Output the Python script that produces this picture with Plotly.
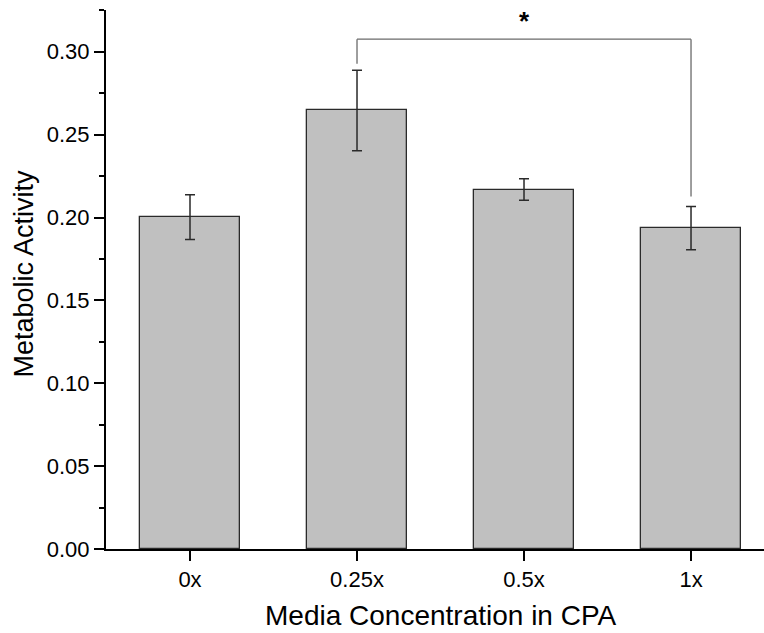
import plotly.graph_objects as go

categories = ["0x", "0.25x", "0.5x", "1x"]
values = [0.2002, 0.2646, 0.2169, 0.1936]
errors = [0.0135, 0.0243, 0.0065, 0.0130]
y_ticks = [0.00, 0.05, 0.10, 0.15, 0.20, 0.25, 0.30]
y_tick_labels = ["0.00", "0.05", "0.10", "0.15", "0.20", "0.25", "0.30"]

# significance bracket between 0.25x and 1x
sig_pair = (1, 3)
sig_top = 0.3076
sig_left_bottom = 0.2928
sig_right_bottom = 0.2127
sig_label = "*"
sig_label_y = 0.3185

x_pos = list(range(len(categories)))
FONT = "Liberation Sans, Arial, sans-serif"

fig = go.Figure()
fig.add_trace(go.Bar(
    x=x_pos, y=values, width=0.6,
    marker=dict(color="#c0c0c0", line=dict(color="#2a2a2a", width=1.3)),
    error_y=dict(type="data", array=errors, visible=True,
                 color="#2a2a2a", thickness=1.5, width=5),
    showlegend=False,
))

a, b = sig_pair
fig.add_shape(type="line", xref="x", yref="y", x0=x_pos[a], x1=x_pos[a],
              y0=sig_left_bottom, y1=sig_top, line=dict(color="#6a6a6a", width=1.3))
fig.add_shape(type="line", xref="x", yref="y", x0=x_pos[a], x1=x_pos[b],
              y0=sig_top, y1=sig_top, line=dict(color="#6a6a6a", width=1.3))
fig.add_shape(type="line", xref="x", yref="y", x0=x_pos[b], x1=x_pos[b],
              y0=sig_right_bottom, y1=sig_top, line=dict(color="#6a6a6a", width=1.3))
fig.add_annotation(x=(x_pos[a] + x_pos[b]) / 2, y=sig_label_y, xref="x", yref="y",
                   text="<b>" + sig_label + "</b>", showarrow=False,
                   font=dict(family=FONT, size=26, color="black"))

fig.add_annotation(text="Metabolic Activity", xref="paper", yref="paper",
                   x=-0.1246, y=0.511, textangle=-90, showarrow=False,
                   xanchor="center", yanchor="middle",
                   font=dict(family=FONT, size=27, color="black"))
fig.add_annotation(text="Media Concentration in CPA", xref="paper", yref="paper",
                   x=0.509, y=-0.1243, showarrow=False,
                   xanchor="center", yanchor="middle",
                   font=dict(family=FONT, size=28, color="black"))

fig.update_layout(
    width=764, height=633,
    margin=dict(l=106, r=0, t=10, b=84),
    plot_bgcolor="white", paper_bgcolor="white",
    font=dict(family=FONT, size=22, color="black"),
    bargap=0,
)
fig.update_xaxes(
    range=[-0.503, 3.437], tickvals=x_pos, ticktext=categories,
    showline=True, linecolor="black", linewidth=2,
    ticks="outside", ticklen=10, tickwidth=2, tickcolor="black",
    showgrid=False, zeroline=False,
    tickfont=dict(family=FONT, size=22, color="black"),
)
fig.update_yaxes(
    range=[0, 0.3252], tickvals=y_ticks, ticktext=y_tick_labels,
    showline=True, linecolor="black", linewidth=2,
    ticks="outside", ticklen=10, tickwidth=2, tickcolor="black",
    minor=dict(tickvals=[0.025, 0.075, 0.125, 0.175, 0.225, 0.275, 0.325],
               ticks="outside", ticklen=5, tickwidth=2, tickcolor="black"),
    showgrid=False, zeroline=False,
    tickfont=dict(family=FONT, size=22, color="black"),
)

fig.write_html("out.html")
